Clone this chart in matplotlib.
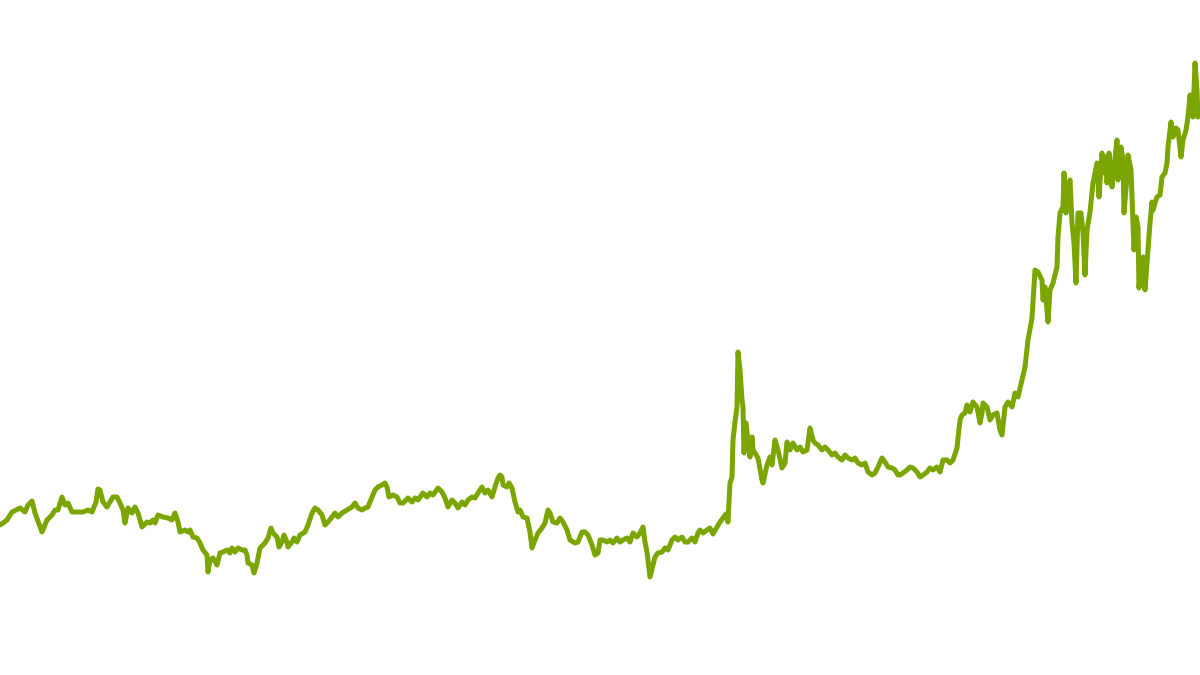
import matplotlib
matplotlib.use("Agg")
import matplotlib.pyplot as plt

days = [0, 3, 7, 12, 20, 25, 28, 32, 35, 42, 47, 52, 55, 58, 62, 65, 68, 72, 83, 88,
        92, 96, 98, 100, 103, 107, 110, 113, 117, 120, 123, 125, 128, 132, 135, 138, 142, 147, 150, 153,
        155, 158, 163, 168, 172, 175, 178, 180, 185, 188, 190, 193, 197, 200, 203, 207, 208, 210, 213, 217,
        220, 223, 227, 230, 232, 235, 238, 242, 245, 247, 248, 252, 254, 257, 260, 265, 268, 271, 273, 277,
        279, 282, 284, 287, 288, 292, 294, 297, 300, 305, 308, 312, 315, 318, 322, 325, 328, 332, 335, 338,
        342, 347, 352, 355, 358, 362, 365, 368, 372, 375, 378, 382, 385, 387, 389, 393, 397, 400, 403, 408,
        412, 415, 418, 423, 427, 430, 433, 438, 442, 445, 448, 452, 455, 458, 462, 465, 468, 472, 475, 478,
        482, 485, 488, 492, 495, 498, 500, 502, 503, 507, 509, 512, 515, 518, 520, 523, 527, 530, 532, 535,
        538, 542, 545, 548, 550, 553, 557, 560, 563, 567, 570, 575, 578, 582, 585, 588, 592, 595, 598, 600,
        603, 607, 610, 613, 617, 620, 623, 627, 630, 633, 637, 640, 643, 645, 647, 650, 653, 655, 658, 662,
        665, 668, 672, 675, 678, 682, 685, 688, 692, 695, 698, 700, 703, 707, 710, 713, 717, 720, 723, 726,
        728, 730, 732, 733, 735, 737, 738, 740, 742, 743, 744, 746, 748, 750, 752, 753, 755, 758, 762, 763,
        767, 770, 772, 775, 778, 782, 785, 787, 790, 793, 797, 800, 803, 807, 810, 813, 815, 818, 822, 825,
        828, 832, 835, 838, 842, 845, 848, 852, 855, 858, 862, 865, 868, 872, 875, 878, 882, 885, 888, 892,
        895, 898, 900, 903, 907, 910, 913, 917, 920, 923, 927, 930, 933, 937, 940, 943, 947, 950, 953, 957,
        958, 960, 962, 965, 967, 970, 973, 977, 980, 982, 983, 987, 990, 993, 997, 1000, 1002, 1005, 1008, 1012,
        1015, 1018, 1022, 1025, 1028, 1032, 1035, 1038, 1042, 1043, 1045, 1048, 1050, 1053, 1057, 1058, 1060, 1063, 1064, 1066,
        1068, 1070, 1072, 1074, 1076, 1078, 1081, 1083, 1085, 1087, 1090, 1093, 1097, 1099, 1102, 1104, 1106, 1107, 1109, 1112,
        1114, 1117, 1118, 1121, 1123, 1124, 1127, 1128, 1131, 1133, 1134, 1136, 1138, 1139, 1141, 1143, 1145, 1147, 1148, 1150,
        1152, 1153, 1155, 1157, 1160, 1162, 1165, 1167, 1168, 1171, 1173, 1176, 1178, 1181, 1183, 1186, 1188, 1190, 1193, 1195,
        1197, 1198, 1200]

values = [150, 152, 155, 163, 167, 163, 170, 174, 162, 143, 155, 160, 165, 165, 178, 170, 172, 163, 163, 165,
          163, 173, 186, 185, 173, 168, 173, 178, 178, 172, 165, 152, 167, 162, 168, 162, 148, 153, 152, 155,
          152, 160, 158, 157, 155, 162, 153, 143, 145, 143, 145, 138, 137, 132, 125, 120, 103, 115, 117, 110,
          122, 123, 125, 122, 127, 123, 127, 125, 125, 120, 112, 110, 102, 112, 127, 132, 137, 147, 142, 138,
          128, 133, 140, 133, 128, 133, 137, 133, 140, 143, 150, 162, 167, 165, 160, 150, 153, 158, 162, 158,
          162, 165, 168, 172, 167, 165, 167, 168, 178, 185, 188, 190, 192, 188, 178, 180, 178, 172, 172, 177,
          173, 177, 175, 182, 178, 182, 180, 187, 183, 177, 168, 175, 172, 167, 173, 170, 175, 178, 177, 182,
          188, 182, 185, 178, 188, 197, 200, 198, 190, 188, 192, 187, 173, 163, 165, 158, 157, 143, 127, 135,
          142, 147, 152, 165, 162, 153, 152, 157, 153, 145, 135, 132, 133, 143, 143, 140, 130, 120, 122, 135,
          135, 133, 135, 132, 137, 133, 135, 137, 133, 142, 138, 142, 148, 133, 123, 98, 110, 118, 122, 123,
          127, 125, 135, 138, 135, 138, 133, 133, 137, 133, 142, 145, 142, 145, 147, 141, 148, 153, 157, 161,
          153, 192, 198, 235, 253, 268, 323, 305, 275, 268, 222, 252, 235, 218, 238, 225, 222, 217, 195, 192,
          210, 218, 210, 235, 225, 207, 212, 233, 225, 232, 225, 228, 223, 225, 247, 235, 232, 230, 225, 228,
          225, 220, 222, 218, 215, 220, 217, 215, 217, 212, 210, 212, 203, 200, 202, 208, 217, 213, 208, 207,
          205, 200, 200, 202, 205, 208, 207, 203, 198, 200, 203, 207, 205, 208, 203, 215, 215, 212, 215, 227,
          237, 255, 260, 262, 270, 263, 273, 268, 252, 262, 272, 268, 255, 260, 262, 245, 240, 268, 273, 268,
          282, 278, 295, 308, 335, 357, 405, 403, 395, 375, 388, 353, 385, 392, 408, 438, 462, 468, 502, 462,
          482, 495, 452, 432, 392, 462, 462, 442, 400, 445, 463, 492, 512, 478, 522, 502, 518, 492, 522, 488,
          508, 535, 495, 528, 515, 462, 498, 520, 505, 452, 425, 458, 448, 387, 415, 418, 385, 412, 425, 452,
          473, 465, 472, 478, 480, 498, 502, 512, 528, 553, 538, 547, 545, 518, 535, 545, 558, 580, 558, 612,
          585, 558, 560]

LINE_COLOR = "#7BA500"

fig = plt.figure(figsize=(12, 6.75), dpi=100)
ax = fig.add_axes([0, 0, 1, 1])
ax.plot(days, values, color=LINE_COLOR, linewidth=3.6,
        solid_joinstyle="round", solid_capstyle="round")
ax.set_xlim(0, 1200)
ax.set_ylim(0, 675)
ax.axis("off")
fig.savefig("out.png", dpi=100, facecolor="white")
